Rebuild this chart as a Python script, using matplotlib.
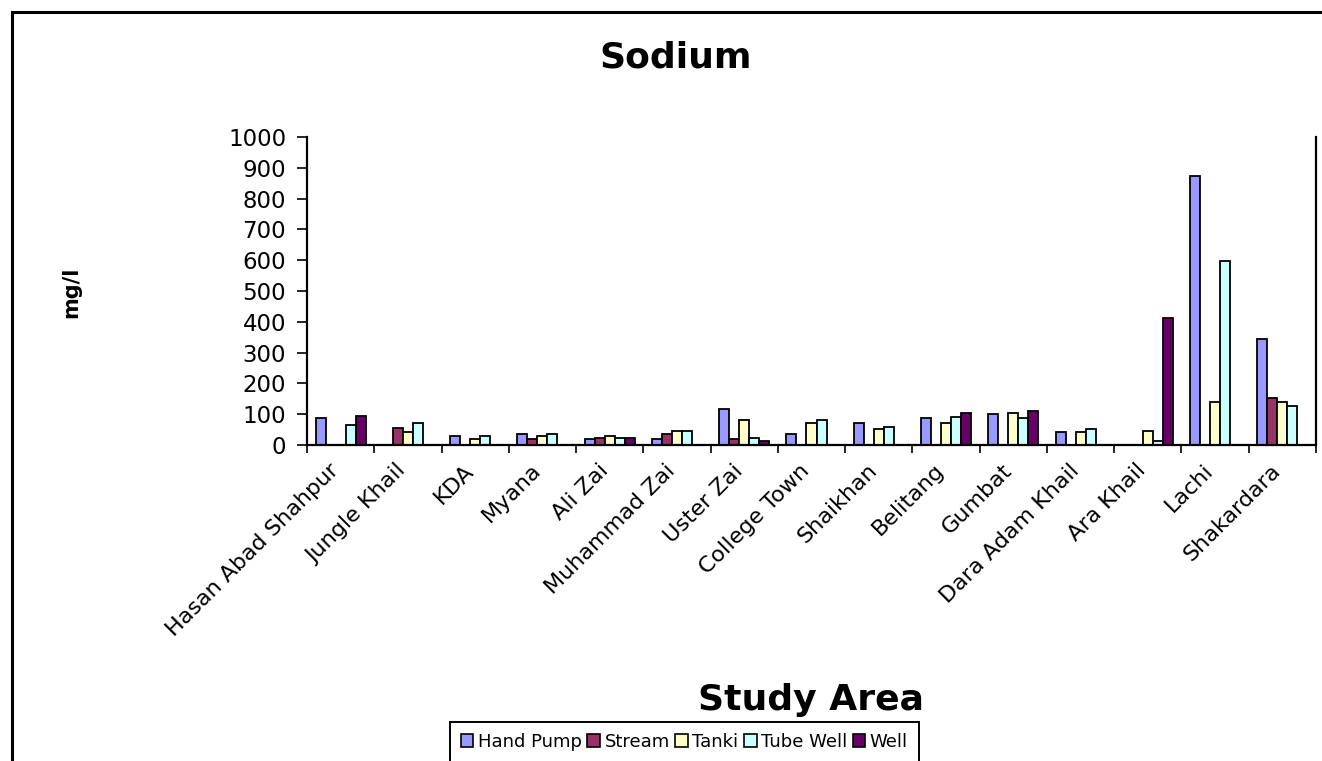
import matplotlib.pyplot as plt
import numpy as np
from matplotlib.patches import Rectangle, Patch
from matplotlib.transforms import ScaledTranslation

plt.rcParams['font.family'] = ['DejaVu Sans']

areas = ['Hasan Abad Shahpur', 'Jungle Khail', 'KDA', 'Myana', 'Ali Zai',
         'Muhammad Zai', 'Uster Zai', 'College Town', 'Shaikhan', 'Belitang',
         'Gumbat', 'Dara Adam Khail', 'Ara Khail', 'Lachi', 'Shakardara']

hand_pump = [87, 0, 29, 36, 18, 18, 116, 36, 70, 87, 100, 41, 0, 873, 344]
stream = [0, 54, 0, 18, 24, 36, 18, 0, 0, 0, 0, 0, 0, 0, 152]
tanki = [0, 41, 18, 29, 29, 47, 81, 70, 53, 70, 105, 41, 47, 139, 139]
tube_well = [65, 70, 29, 36, 22, 47, 24, 81, 59, 92, 87, 53, 13, 598, 128]
well = [94, 0, 0, 0, 24, 0, 13, 0, 0, 105, 110, 0, 413, 0, 0]

series_names = ['Hand Pump', 'Stream', 'Tanki', 'Tube Well', 'Well']
series_colors = ['#9999FF', '#993366', '#FFFFCC', '#CCFFFF', '#660066']
yticks = [0, 100, 200, 300, 400, 500, 600, 700, 800, 900, 1000]

W, H = 1322, 761
fig = plt.figure(figsize=(W / 100, H / 100), dpi=100)
ax = fig.add_axes([307 / W, 1 - 445 / H, (1316 - 307) / W, (445 - 137) / H])

# outer chart border (only top and left show in the crop)
fig.patches.append(Rectangle((12 / W, -0.2), 2, 1.2 - 12 / H, transform=fig.transFigure,
                             fill=False, edgecolor='black', linewidth=2.2))

x = np.arange(len(areas)) + 0.5
bw = 0.149
all_series = [hand_pump, stream, tanki, tube_well, well]
for i, vals in enumerate(all_series):
    ax.bar(x + (i - 2) * bw, vals, width=bw, color=series_colors[i],
           edgecolor='black', linewidth=1.3)

ax.set_xlim(0, len(areas))
ax.set_ylim(0, 1000)
ax.set_yticks(yticks)
ax.set_yticklabels([str(v) for v in yticks], fontsize=16.5)
ax.tick_params(axis='y', length=7, width=1.2, pad=8)

ax.set_xticks(np.arange(len(areas) + 1))
ax.set_xticklabels([])
ax.tick_params(axis='x', which='major', length=6, width=1.2)
ax.set_xticks(x, minor=True)
ax.set_xticklabels(areas, minor=True, fontsize=16, rotation=45, ha='right',
                   va='top', rotation_mode='anchor')
ax.tick_params(axis='x', which='minor', length=0, pad=11)
shift = ScaledTranslation(-0.12, 0, fig.dpi_scale_trans)
for lbl in ax.get_xticklabels(minor=True):
    lbl.set_transform(lbl.get_transform() + shift)

for s in ['left', 'bottom', 'right']:
    ax.spines[s].set_linewidth(1.6)
ax.spines['top'].set_visible(False)

fig.text(676 / W, 1 - 57 / H, 'Sodium', fontsize=26, fontweight='bold',
         ha='center', va='center')
fig.text(71 / W, 1 - 292 / H, 'mg/l', fontsize=15, fontweight='bold',
         rotation=90, ha='center', va='center')
fig.text(811 / W, 1 - 700 / H, 'Study Area', fontsize=26, fontweight='bold',
         ha='center', va='center')

handles = [Patch(facecolor=c, edgecolor='black', linewidth=1.2) for c in series_colors]
leg = fig.legend(handles, series_names, loc='upper left', bbox_to_anchor=(450 / W, 1 - 722 / H),
                 bbox_transform=fig.transFigure, borderaxespad=0, ncol=5, fontsize=13,
                 handlelength=0.7, handleheight=0.7, handletextpad=0.25, columnspacing=0.3,
                 fancybox=False, framealpha=1, edgecolor='black', borderpad=0.6)
leg.get_frame().set_linewidth(1.4)

plt.savefig('out.png', dpi=100)
